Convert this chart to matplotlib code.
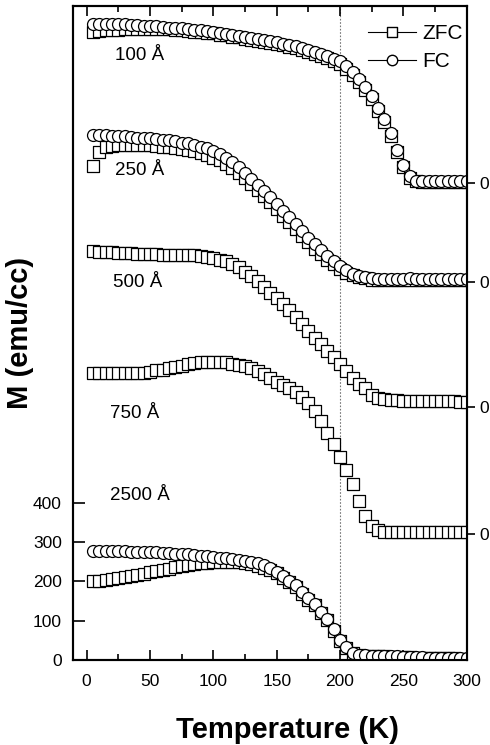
import numpy as np
import matplotlib
matplotlib.use('Agg')
import matplotlib.pyplot as plt
from matplotlib.path import Path
from matplotlib.lines import Line2D
from matplotlib.ticker import NullLocator

plt.rcParams['font.family'] = ['Liberation Sans', 'DejaVu Sans']

# ---------------- data ----------------
T = [5, 10, 15, 20, 25, 30, 35, 40, 45, 50,
     55, 60, 65, 70, 75, 80, 85, 90, 95, 100,
     105, 110, 115, 120, 125, 130, 135, 140, 145, 150,
     155, 160, 165, 170, 175, 180, 185, 190, 195, 200,
     205, 210, 215, 220, 225, 230, 235, 240, 245, 250,
     255, 260, 265, 270, 275, 280, 285, 290, 295, 300]

fc_100 = [405, 405, 405, 405, 405, 404, 403, 403, 401, 400,
          399, 398, 396, 395, 394, 392, 390, 389, 387, 385,
          382, 380, 377, 375, 372, 369, 367, 364, 362, 359,
          355, 352, 348, 344, 339, 334, 329, 324, 317, 310,
          298, 283, 265, 245, 222, 191, 163, 127, 84, 46,
          18, 6, 4, 4, 4, 4, 4, 5, 4, 4]
zfc_100 = [385, 387, 389, 390, 391, 392, 392, 393, 393, 393,
           393, 393, 392, 391, 390, 388, 386, 385, 383, 381,
           378, 376, 373, 371, 368, 365, 363, 360, 358, 355,
           351, 347, 343, 339, 334, 329, 324, 318, 311, 303,
           291, 276, 258, 238, 214, 184, 156, 120, 78, 40,
           14, 4, 3, 3, 3, 3, 3, 3, 3, 3]

fc_250 = [375, 375, 375, 373, 372, 371, 370, 368, 367, 366,
          364, 362, 361, 358, 355, 353, 349, 345, 340, 334,
          326, 316, 306, 293, 278, 262, 247, 232, 217, 199,
          181, 166, 148, 130, 112, 97, 82, 66, 54, 41,
          31, 20, 15, 13, 10, 8, 8, 8, 8, 8,
          9, 8, 8, 7, 8, 8, 7, 8, 8, 7]
zfc_250 = [296, 331, 344, 347, 348, 349, 349, 349, 349, 348,
           347, 345, 344, 341, 339, 336, 333, 329, 324, 317,
           310, 301, 291, 278, 264, 250, 234, 219, 204, 186,
           168, 152, 135, 117, 101, 85, 71, 57, 45, 33,
           24, 17, 12, 9, 6, 6, 6, 6, 6, 6,
           6, 6, 6, 6, 6, 6, 6, 6, 6, 6]

zfc_500 = [396, 395, 395, 394, 392, 392, 391, 390, 390, 389,
           389, 387, 387, 387, 387, 387, 386, 385, 382, 379,
           375, 371, 363, 355, 344, 333, 320, 305, 291, 277,
           261, 246, 229, 212, 192, 176, 159, 143, 126, 110,
           92, 74, 59, 47, 31, 23, 19, 18, 17, 15,
           15, 14, 14, 14, 14, 14, 14, 14, 13, 13]

zfc_750 = [410, 410, 410, 410, 410, 410, 410, 410, 410, 413,
           417, 419, 422, 426, 429, 432, 435, 437, 438, 439,
           439, 437, 434, 431, 427, 422, 415, 408, 398, 387,
           380, 372, 361, 348, 334, 313, 287, 257, 229, 196,
           163, 127, 84, 47, 20, 9, 6, 6, 6, 6,
           6, 6, 6, 6, 6, 6, 6, 6, 6, 6]

fc_2500 = [277, 277, 277, 277, 277, 277, 276, 276, 275, 275,
           274, 273, 272, 271, 270, 269, 268, 266, 265, 263,
           261, 259, 257, 255, 252, 249, 246, 241, 235, 225,
           213, 201, 190, 172, 157, 143, 122, 104, 78, 52,
           32, 19, 14, 12, 11, 10, 10, 9, 9, 8,
           8, 7, 7, 6, 6, 5, 5, 5, 4, 4]
zfc_2500 = [200, 202, 204, 206, 208, 211, 214, 217, 220, 223,
            227, 230, 233, 236, 239, 242, 244, 246, 248, 249,
            250, 250, 250, 249, 247, 244, 240, 235, 229, 221,
            210, 198, 186, 169, 154, 140, 119, 101, 75, 49,
            30, 18, 13, 11, 10, 9, 9, 8, 8, 7,
            7, 6, 6, 5, 5, 4, 4, 4, 3, 3]

sample_labels = ['100 Å', '250 Å', '500 Å', '750 Å', '2500 Å']
offsets = [1215, 963, 645, 321, 0]
left_ticks = [0, 100, 200, 300, 400]
x_major = [0, 50, 100, 150, 200, 250, 300]
x_minor = [25, 75, 125, 175, 225, 275]

# ---------------- styling ----------------
sq_verts = [(-1, -1), (1, -1), (1, 1), (-1, 1), (-1, -1),
            (-0.07, -0.07), (0.07, -0.07), (0.07, 0.07), (-0.07, 0.07), (-0.07, -0.07)]
sq_codes = [Path.MOVETO, Path.LINETO, Path.LINETO, Path.LINETO, Path.CLOSEPOLY] * 2
sqdot = Path(sq_verts, sq_codes)

fig = plt.figure(figsize=(4.9, 7.45), dpi=100)
ax = fig.add_axes([73 / 490, 85 / 745, 394 / 490, 654 / 745])
ax.set_xlim(-10.8, 300.2)
ax.set_ylim(0, 1666)

ax.axvline(200, color='#777777', lw=0.8, ls=(0, (1.5, 1.5)), zorder=1)

zkw = dict(ls='none', marker=sqdot, ms=8, mfc='white', mec='black', mew=0.9, zorder=3)
fkw = dict(ls='none', marker='o', ms=8.6, mfc='white', mec='black', mew=0.9, zorder=4)

series = [(zfc_100, fc_100), (zfc_250, fc_250), (zfc_500, None),
          (zfc_750, None), (zfc_2500, fc_2500)]
for (z, f), off in zip(series, offsets):
    ax.plot(T, np.array(z) + off, **zkw)
    if f is not None:
        ax.plot(T, np.array(f) + off, **fkw)

label_pos = [(22, 1541), (22, 1246), (21, 961), (18.5, 629), (18.5, 418)]
for lab, (lx, ly) in zip(sample_labels, label_pos):
    ax.text(lx, ly, lab, fontsize=13.5, ha='left', va='center')

ax.set_xticks(x_major)
ax.set_xticks(x_minor, minor=True)
ax.tick_params(axis='x', which='major', direction='in', length=7.5, width=1.2,
               top=True, labelsize=12.5, pad=10)
ax.tick_params(axis='x', which='minor', direction='in', length=4, width=1.2, top=True)
ax.set_yticks(left_ticks)
ax.yaxis.set_minor_locator(NullLocator())
ax.tick_params(axis='y', direction='in', length=8.5, width=1.2, labelsize=12.5, pad=8)

ax2 = ax.twinx()
ax2.set_ylim(0, 1666)
ax2.set_yticks(offsets[:4])
ax2.set_yticklabels(['0'] * 4)
ax2.tick_params(axis='y', direction='out', length=6, width=1.2, labelsize=12.5, pad=3)
for a in (ax, ax2):
    for s in a.spines.values():
        s.set_linewidth(1.5)

ax.set_xlabel('Temperature (K)', fontsize=21, fontweight='bold', labelpad=18)
ax.xaxis.set_label_coords(0.544, -0.085)
ax.xaxis.label.set_va('top')
ax.set_ylabel('M (emu/cc)', fontsize=21, fontweight='bold')
ax.yaxis.set_label_coords(-0.1, 0.5)

handles = [Line2D([], [], color='black', lw=0.8, marker=sqdot, ms=6.5, mfc='white',
                  mec='black', mew=1.0),
           Line2D([], [], color='black', lw=0.8, marker='o', ms=7.5, mfc='white',
                  mec='black', mew=1.0)]
ax.legend(handles, ['ZFC', 'FC'], loc='upper right', bbox_to_anchor=(1.0, 0.979),
          frameon=False, fontsize=15, handlelength=2.3, handletextpad=0.3,
          labelspacing=0.45, borderaxespad=0, borderpad=0.2)

fig.savefig('out.png', dpi=100)
